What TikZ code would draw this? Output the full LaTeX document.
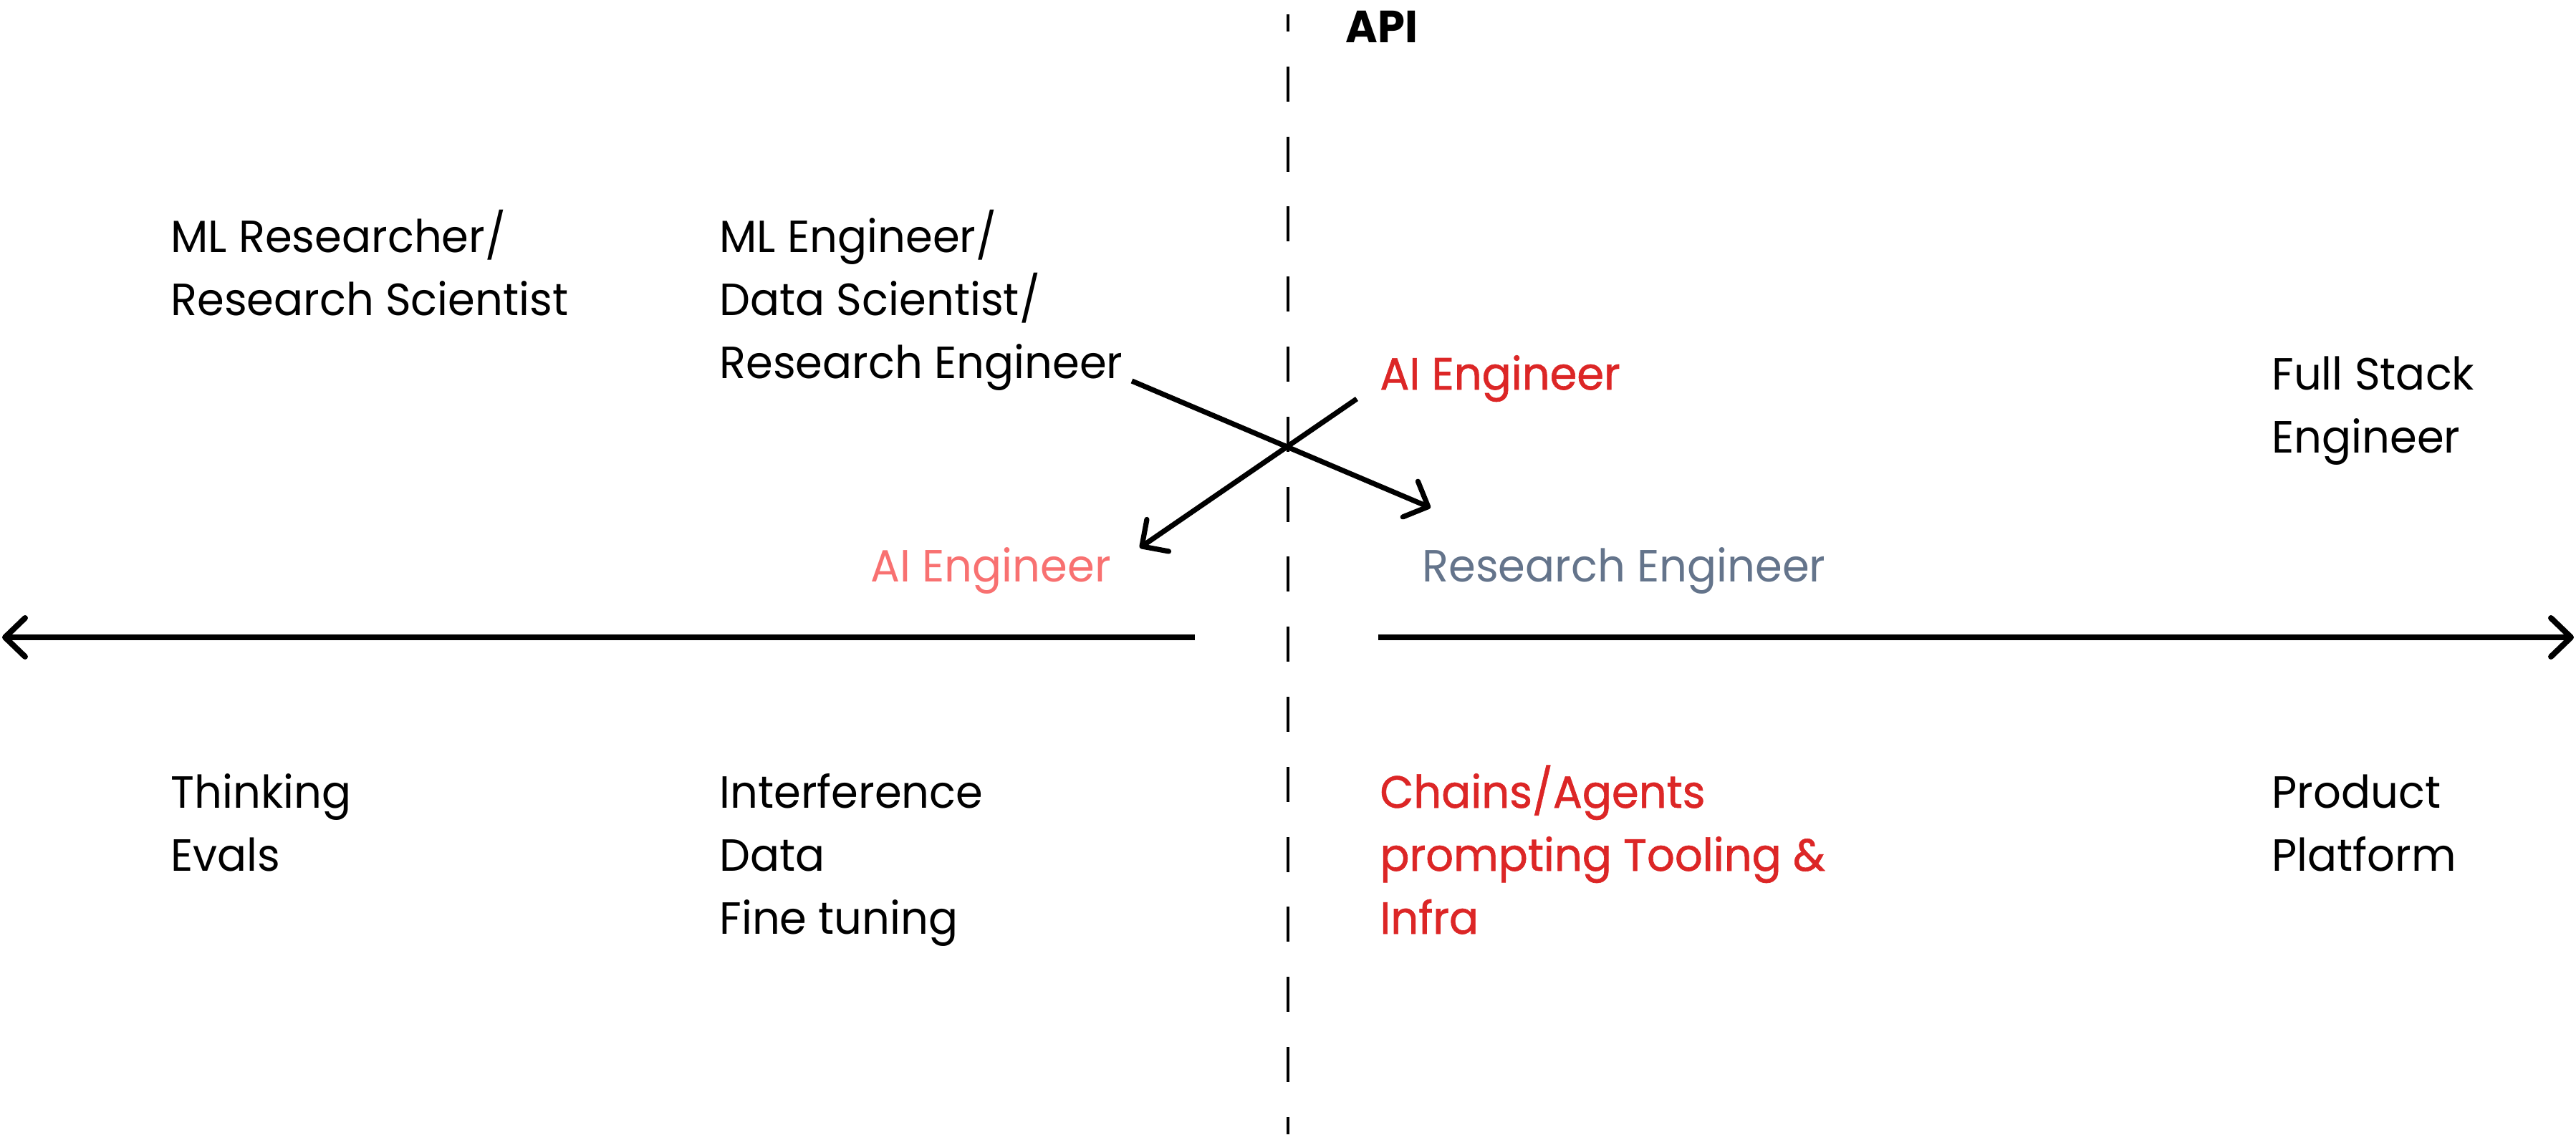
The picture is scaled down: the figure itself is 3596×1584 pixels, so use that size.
\documentclass[tikz,border=0pt]{standalone}
\usepackage{fontspec}
\setmainfont{Poppins}[FakeStretch=0.965]
\newfontfamily\medfont{Poppins}[FakeStretch=0.965, FakeBold=1.0]
\usetikzlibrary{arrows.meta}
\definecolor{aired}{HTML}{DC2626}
\definecolor{aipink}{HTML}{F87171}
\definecolor{slate}{HTML}{64748B}
\begin{document}
\begin{tikzpicture}[x=0.5pt,y=-0.5pt,
  lbl/.style={anchor=base west, inner sep=0pt, align=left, font=\fontsize{31.5}{44}\selectfont},
  redlbl/.style={lbl, text=aired, font=\medfont\fontsize{31.5}{44}\selectfont},
  axisarrow/.style={line width=4pt, -{Straight Barb[round,length=14pt,width=27pt]}},
  crossarrow/.style={line width=3.6pt, -{Straight Barb[round,length=13.5pt,width=27pt]}},
  apiline/.style={line width=2pt, dash pattern=on 24.5pt off 24.4pt, dash phase=12.5pt}]
\useasboundingbox (0,0) rectangle (3596,1584);
% API divider
\coordinate (apitop) at (1798,20);
\coordinate (apibot) at (1798,1584);
\draw[apiline] (apitop) -- (apibot);
\node[lbl, font=\fontsize{31.5}{44}\selectfont\bfseries] (api) at (1878,60) {API};
% axis
\coordinate (axLs) at (1668,890);
\coordinate (axLe) at (3,890);
\coordinate (axRs) at (1924,890);
\coordinate (axRe) at (3593,890);
\draw[axisarrow] (axLs) -- (axLe);
\draw[axisarrow] (axRs) -- (axRe);
% top labels (base anchor = last line baseline)
\node[lbl] (mlres) at (238,440) {ML Researcher/\\Research Scientist};
\node[lbl] (mleng) at (1004,528) {ML Engineer/\\Data Scientist/\\Research Engineer};
\node[redlbl] (aitop) at (1926,544) {AI Engineer};
\node[lbl] (fullstack) at (3171,632) {Full Stack\\Engineer};
\node[lbl, text=aipink] (aipinknode) at (1215,812) {AI Engineer};
\node[lbl, text=slate] (reseng) at (1985,812) {Research Engineer};
% bottom labels
\node[lbl] (thinking) at (238,1216) {Thinking\\Evals};
\node[lbl] (interf) at (1004,1304) {Interference\\Data\\Fine tuning};
\node[redlbl] (chains) at (1926,1304) {Chains/Agents\\prompting Tooling \&\\Infra};
\node[lbl] (product) at (3171,1216) {Product\\Platform};
% crossing arrows
\coordinate (c1s) at (1580,532);
\coordinate (c1e) at (1997,709);
\coordinate (c2s) at (1894,557);
\coordinate (c2e) at (1591,765);
\draw[crossarrow] (c1s) -- (c1e);
\draw[crossarrow] (c2s) -- (c2e);
\end{tikzpicture}
\end{document}
